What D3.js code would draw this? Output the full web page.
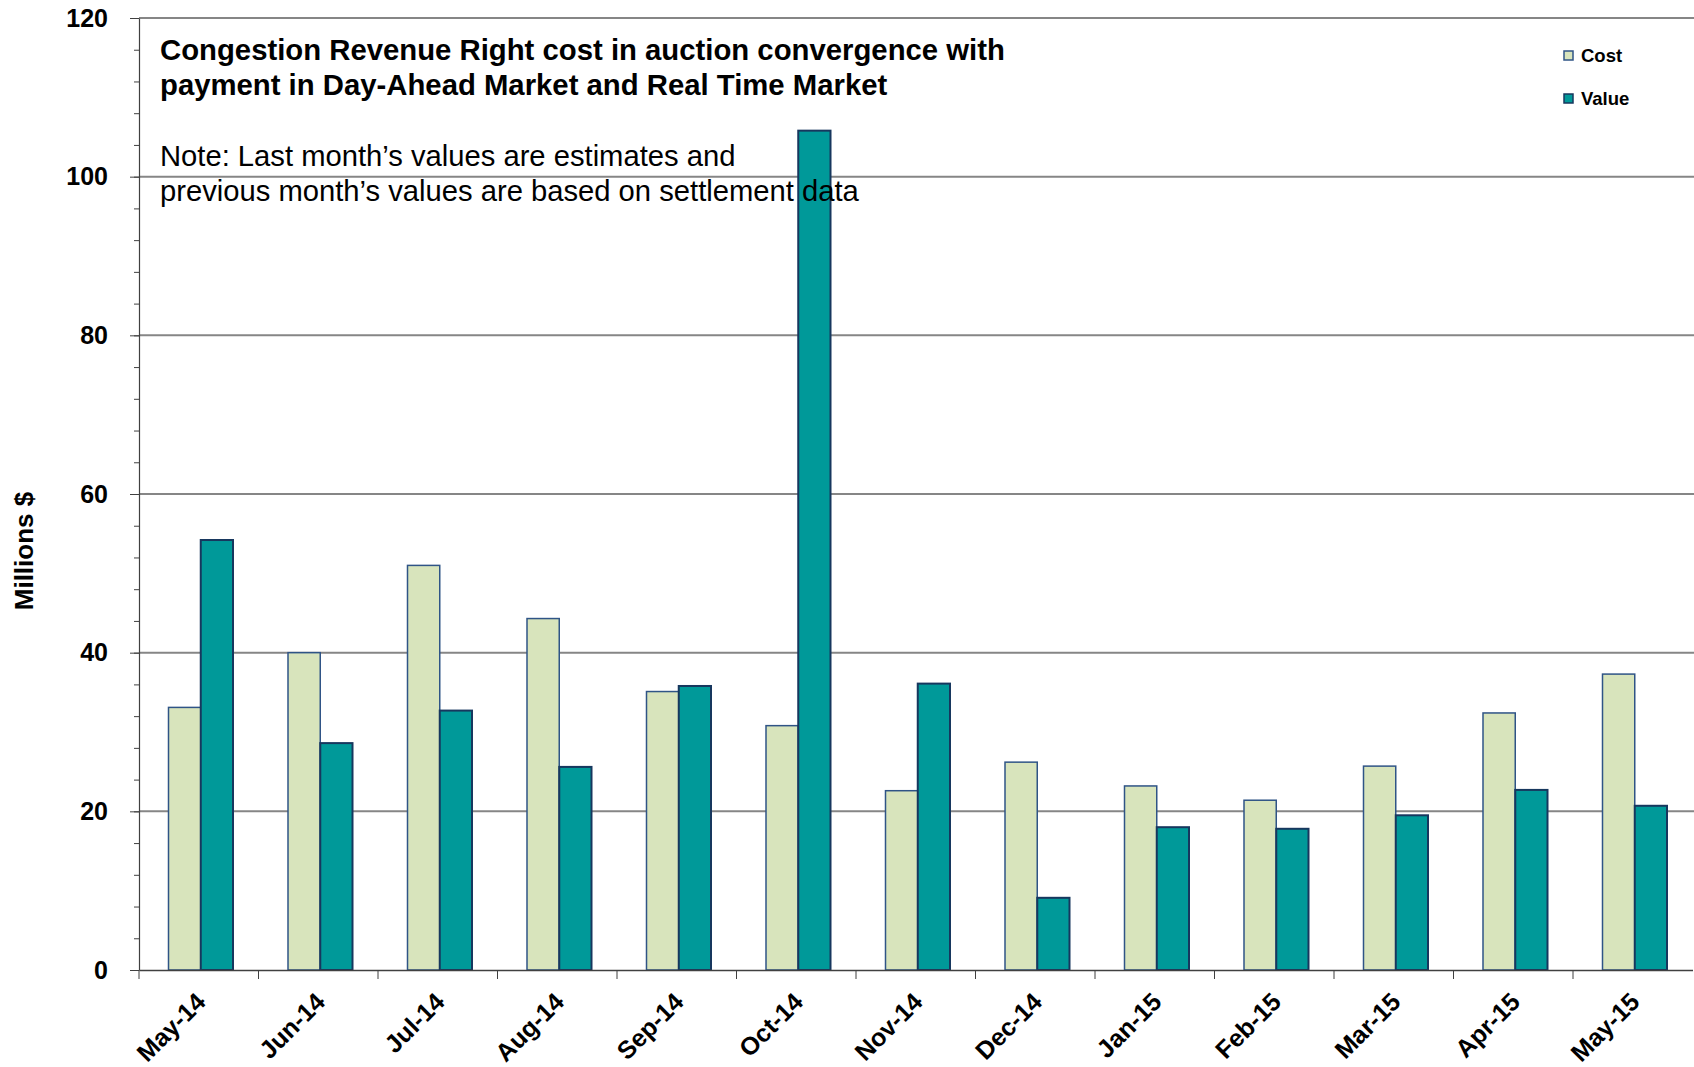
<!DOCTYPE html>
<html>
<head>
<meta charset="utf-8">
<script src="https://cdnjs.cloudflare.com/ajax/libs/d3/7.8.5/d3.min.js"></script>
<style>
	body { margin: 0; background: #fff; }
	svg { display: block; font-family: "Liberation Sans", Arial, sans-serif; }
</style>
</head>
<body>
<svg id="chart" width="1694" height="1067"></svg>
<script>
var months = ["May-14", "Jun-14", "Jul-14", "Aug-14", "Sep-14", "Oct-14", "Nov-14",
	"Dec-14", "Jan-15", "Feb-15", "Mar-15", "Apr-15", "May-15"];
var series = ["Cost", "Value"];
var costValues = [33.1, 40.0, 51.0, 44.3, 35.1, 30.8, 22.6, 26.2, 23.2, 21.4, 25.7, 32.4, 37.3];
var valueValues = [54.2, 28.6, 32.7, 25.6, 35.8, 105.8, 36.1, 9.1, 18.0, 17.8, 19.5, 22.7, 20.7];
var majorTicks = [0, 20, 40, 60, 80, 100, 120];
var titleLines = ["Congestion Revenue Right cost in auction convergence with",
	"payment in Day-Ahead Market and Real Time Market"];
var noteLines = ["Note: Last month\u2019s values are estimates and",
	"previous month\u2019s values are based on settlement data"];

var colours = {
	fill: { Cost: "#d8e4bc", Value: "#009999" },
	stroke: { Cost: "#2f5486", Value: "#17375e" },
	grid: "#868686",
	axis: "#404040"
};

var svg = d3.select("#chart");
var plotLeft = 139, plotTop = 18, plotBottom = 970, bandW = 119.5;

var x = d3.scaleBand()
	.domain(months)
	.range([plotLeft, plotLeft + months.length * bandW]);

var xInner = d3.scaleBand()
	.domain(series)
	.range([29.5, 94]);

var y = d3.scaleLinear()
	.domain([0, 120])
	.range([plotBottom, plotTop]);

var rows = months.map(function (m, i) {
	return { month: m, Cost: costValues[i], Value: valueValues[i] };
});

// gridlines
svg.append("g")
	.selectAll("line")
	.data(majorTicks.filter(function (d) { return d > 0; }))
	.enter()
  .append("line")
	.attr("x1", plotLeft)
	.attr("x2", 1694)
	.attr("y1", function (d) { return y(d); })
	.attr("y2", function (d) { return y(d); })
	.attr("stroke", colours.grid)
	.attr("stroke-width", 2);

// bars
var groups = svg.append("g")
	.selectAll("g")
	.data(rows)
	.enter()
  .append("g")
	.attr("transform", function (d) { return "translate(" + x(d.month) + ",0)"; });

groups.selectAll("rect")
	.data(function (d) {
		return series.map(function (s) { return { key: s, value: d[s] }; });
	})
	.enter()
  .append("rect")
	.attr("x", function (d) { return xInner(d.key); })
	.attr("y", function (d) { return y(d.value); })
	.attr("width", xInner.bandwidth())
	.attr("height", function (d) { return y(0) - y(d.value); })
	.attr("fill", function (d) { return colours.fill[d.key]; })
	.attr("stroke", function (d) { return colours.stroke[d.key]; })
	.attr("stroke-width", function (d) { return d.key === "Cost" ? 1.5 : 2; });

// y axis
var yMinor = svg.append("g")
	.attr("transform", "translate(" + plotLeft + ",0)")
	.call(d3.axisLeft(y).tickValues(d3.range(0, 121, 4)).tickSize(5).tickFormat(""));
yMinor.select(".domain").remove();
yMinor.selectAll("line").attr("stroke", colours.axis);

var yAxis = svg.append("g")
	.attr("transform", "translate(" + plotLeft + ",0)")
	.call(d3.axisLeft(y).tickValues(majorTicks).tickSize(9).tickSizeOuter(0).tickPadding(22));
yAxis.select(".domain").attr("stroke", colours.axis).attr("stroke-width", 1.2);
yAxis.selectAll("line").attr("stroke", colours.axis);
yAxis.selectAll("text")
	.attr("font-size", 25)
	.attr("font-weight", "bold")
	.attr("fill", "#000")
	.attr("font-family", "Liberation Sans, Arial, sans-serif");

// x axis
var xAxis = svg.append("g")
	.attr("transform", "translate(0," + plotBottom + ")")
	.call(d3.axisBottom(x).tickSize(0).tickFormat(""));
xAxis.select(".domain").attr("stroke", colours.axis).attr("stroke-width", 1.5);

svg.append("g")
	.selectAll("line")
	.data(months)
	.enter()
  .append("line")
	.attr("x1", function (d) { return x(d); })
	.attr("x2", function (d) { return x(d); })
	.attr("y1", plotBottom)
	.attr("y2", plotBottom + 9)
	.attr("stroke", colours.axis);

svg.append("g")
	.selectAll("text")
	.data(months)
	.enter()
  .append("text")
	.attr("transform", function (d) {
		return "translate(" + (x(d) + bandW / 2 - 4) + "," + (plotBottom + 21) + ") rotate(-45)";
	})
	.attr("text-anchor", "end")
	.attr("dy", "0.7em")
	.attr("font-size", 25)
	.attr("font-weight", "bold")
	.text(function (d) { return d; });

// y axis title
svg.append("text")
	.attr("transform", "translate(33,551) rotate(-90)")
	.attr("text-anchor", "middle")
	.attr("font-size", 26)
	.attr("font-weight", "bold")
	.text("Millions $");

// title and note
svg.append("g")
	.selectAll("text")
	.data(titleLines)
	.enter()
  .append("text")
	.attr("x", 160)
	.attr("y", function (d, i) { return 60 + i * 35; })
	.attr("font-size", 29.3)
	.attr("font-weight", "bold")
	.text(function (d) { return d; });

svg.append("g")
	.selectAll("text")
	.data(noteLines)
	.enter()
  .append("text")
	.attr("x", 160)
	.attr("y", function (d, i) { return 166 + i * 35; })
	.attr("font-size", 29.2)
	.text(function (d) { return d; });

// legend
var legend = svg.append("g")
	.selectAll("g")
	.data(series)
	.enter()
  .append("g")
	.attr("transform", function (d, i) { return "translate(1564," + (56 + i * 43) + ")"; });

legend.append("rect")
	.attr("x", 0)
	.attr("y", -5)
	.attr("width", 9)
	.attr("height", 9)
	.attr("fill", function (d) { return colours.fill[d]; })
	.attr("stroke", function (d) { return colours.stroke[d]; })
	.attr("stroke-width", 1.5);

legend.append("text")
	.attr("x", 17)
	.attr("y", 0)
	.attr("dy", "0.35em")
	.attr("font-size", 18.5)
	.attr("font-weight", "bold")
	.text(function (d) { return d; });
</script>
</body>
</html>
